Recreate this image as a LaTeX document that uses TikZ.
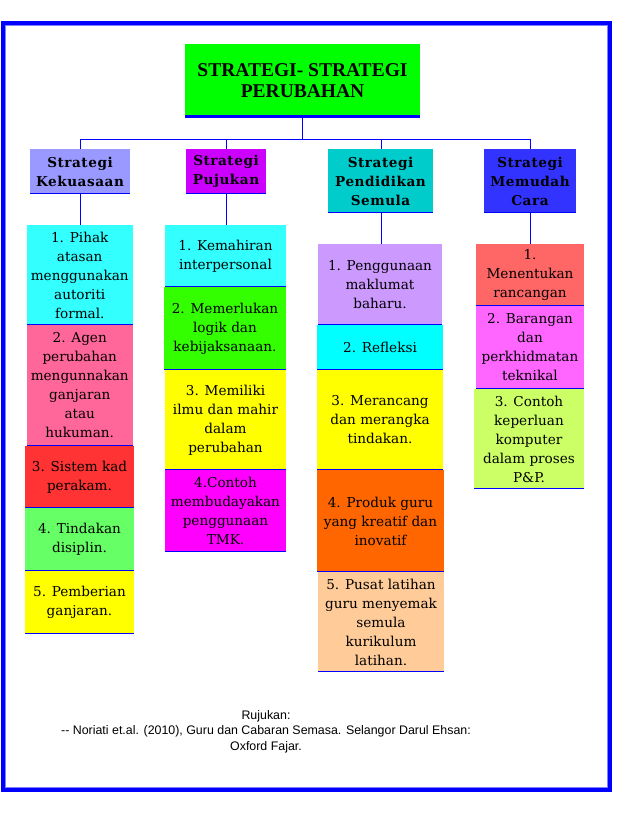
\documentclass[tikz,border=0pt]{standalone}
\usepackage{fontspec}
\newfontfamily\bxfont{DejaVu Serif}
\newfontfamily\hdfont[LetterSpace=4]{DejaVu Serif}
\newfontfamily\ttlfont{Liberation Serif}
\newfontfamily\rffont{Liberation Sans}
\definecolor{frameblue}{HTML}{0000FF}
\definecolor{framelight}{HTML}{8080FF}
\definecolor{cTitle}{HTML}{00FF00}
\definecolor{cK}{HTML}{9999FF}
\definecolor{cP}{HTML}{CC00FF}
\definecolor{cS}{HTML}{00CCCC}
\definecolor{cM}{HTML}{3333FF}
\definecolor{cCyan}{HTML}{33FFFF}
\definecolor{cPink}{HTML}{FF6699}
\definecolor{cRed}{HTML}{FF3333}
\definecolor{cLGreen}{HTML}{66FF66}
\definecolor{cYellow}{HTML}{FFFF00}
\definecolor{cGreen}{HTML}{33FF00}
\definecolor{cMagenta}{HTML}{FF00FF}
\definecolor{cLav}{HTML}{CC99FF}
\definecolor{cAqua}{HTML}{00FFFF}
\definecolor{cOrange}{HTML}{FF6600}
\definecolor{cPeach}{HTML}{FFCC99}
\definecolor{cSalmon}{HTML}{FF6666}
\definecolor{cOrchid}{HTML}{FF66FF}
\definecolor{cLime}{HTML}{CCFF66}
\tikzset{
  itembox/.style={anchor=north west, inner sep=0pt, outer sep=0pt, align=center,
    text=black, font=\bxfont\fontsize{13.6pt}{19pt}\selectfont},
  headbox/.style={anchor=north west, inner sep=0pt, outer sep=0pt, align=center,
    text=black, font=\hdfont\bfseries\fontsize{13.6pt}{19pt}\selectfont},
  titlebox/.style={anchor=north west, inner sep=0pt, outer sep=0pt, align=center,
    text=black, font=\ttlfont\bfseries\fontsize{19.5pt}{21pt}\selectfont},
  conn/.style={draw=frameblue, line width=1pt},
  botline/.style={draw=frameblue, line width=1pt},
  headline/.style={draw=frameblue, line width=1.8pt},
}
\begin{document}
\begin{tikzpicture}[x=1pt,y=-1pt]
\useasboundingbox (0,0) rectangle (632,813);
\fill[white] (0,0) rectangle (632,813);
% frame
\draw[frameblue, line width=3.6pt] (2.8,22.8) rectangle (610,789.8);
\draw[framelight, line width=1pt] (5.1,25.1) rectangle (607.7,787.5);

% title
\node[titlebox, fill=cTitle, minimum width=235pt, minimum height=74pt] (t) at (185,44) {STRATEGI- STRATEGI\\PERUBAHAN};
\draw[frameblue, line width=3pt] ([yshift=1.6pt]t.south west) -- ([yshift=1.6pt]t.south east);

% level 2
\node[headbox, fill=cK, minimum width=100pt, minimum height=45.3pt] (k) at (30,149) {Strategi\\Kekuasaan};
\node[headbox, fill=cP, minimum width=80pt, minimum height=45.3pt] (p) at (186,149) {Strategi\\Pujukan};
\node[headbox, fill=cS, minimum width=105pt, minimum height=64.3pt] (s) at (328,149) {Strategi\\Pendidikan\\Semula};
\node[headbox, fill=cM, minimum width=92pt, minimum height=64.3pt] (m) at (484,149) {Strategi\\Memudah\\Cara};
\foreach \n in {k,p,s,m}{\draw[headline] ([yshift=0.9pt]\n.south west) -- ([yshift=0.9pt]\n.south east);}

% hub connectors
\coordinate (hub) at (303,139.3);
\draw[conn] (t.south) -- (t.south |- hub);
\draw[conn] (k.north) |- (m.north |- hub) -- (m.north);
\draw[conn] (p.north) -- (p.north |- hub);
\draw[conn] ([xshift=1pt]s.north) -- ([xshift=1pt]s.north |- hub);

% column 1
\node[itembox, fill=cCyan, minimum width=106.5pt, minimum height=100pt] (c1a) at (26.5,225) {1. Pihak\\atasan\\menggunakan\\autoriti\\formal.};
\node[itembox, fill=cPink, minimum width=106.5pt, minimum height=120.5pt] (c1b) at (26.5,325) {2. Agen\\perubahan\\mengunnakan\\ganjaran\\atau\\hukuman.};
\node[itembox, fill=cRed, minimum width=109pt, minimum height=62.5pt] (c1c) at (25,445.5) {3. Sistem kad\\perakam.};
\node[itembox, fill=cLGreen, minimum width=109pt, minimum height=63pt] (c1d) at (25,508) {4. Tindakan\\disiplin.};
\node[itembox, fill=cYellow, minimum width=109pt, minimum height=63pt] (c1e) at (25,571) {5. Pemberian\\ganjaran.};

% column 2
\node[itembox, fill=cCyan, minimum width=121pt, minimum height=62.3pt] (c2a) at (165,225) {1. Kemahiran\\interpersonal};
\node[itembox, fill=cGreen, minimum width=122pt, minimum height=82.4pt] (c2b) at (164,287.3) {2. Memerlukan\\logik dan\\kebijaksanaan.};
\node[itembox, fill=cYellow, minimum width=121pt, minimum height=100.3pt] (c2c) at (165,369.7) {3. Memiliki\\ilmu dan mahir\\dalam\\perubahan};
\node[itembox, fill=cMagenta, minimum width=121pt, minimum height=82.3pt] (c2d) at (165,470) {4.Contoh\\membudayakan\\penggunaan\\TMK.};

% column 3
\node[itembox, fill=cLav, minimum width=124pt, minimum height=81.3pt] (c3a) at (318,244) {1. Penggunaan\\maklumat\\baharu.};
\node[itembox, fill=cAqua, minimum width=126pt, minimum height=44.4pt] (c3b) at (317,325.3) {2. Refleksi};
\node[itembox, fill=cYellow, minimum width=126pt, minimum height=100.6pt] (c3c) at (317,369.7) {3. Merancang\\dan merangka\\tindakan.};
\node[itembox, fill=cOrange, minimum width=127pt, minimum height=101.4pt] (c3d) at (317,470.3) {4. Produk guru\\yang kreatif dan\\inovatif};
\node[itembox, fill=cPeach, minimum width=126pt, minimum height=100.6pt] (c3e) at (318,571.7) {5. Pusat latihan\\guru menyemak\\semula\\kurikulum\\latihan.};

% column 4
\node[itembox, fill=cSalmon, minimum width=108pt, minimum height=62.3pt] (c4a) at (476,244) {1.\\Menentukan\\rancangan};
\node[itembox, fill=cOrchid, minimum width=108pt, minimum height=82.4pt] (c4b) at (476,306.3) {2. Barangan\\dan\\perkhidmatan\\teknikal};
\node[itembox, fill=cLime, minimum width=110pt, minimum height=100.6pt] (c4c) at (474,388.7) {3. Contoh\\keperluan\\komputer\\dalam proses\\P\&P.};

% bottom lines of item boxes
\foreach \n in {c1a,c1b,c1c,c1d,c1e,c2a,c2b,c2c,c2d,c3a,c3b,c3c,c3d,c3e,c4a,c4b,c4c}{
  \draw[botline] ([yshift=0.5pt]\n.south west) -- ([yshift=0.5pt]\n.south east);}

% column connectors
\draw[conn] (k.south) -- (k.south |- c1a.north);
\draw[conn] (p.south) -- (p.south |- c2a.north);
\draw[conn] ([xshift=1pt]s.south) -- ([xshift=1pt]s.south |- c3a.north);
\draw[conn] (m.south) -- (m.south |- c4a.north);

% reference
\node[align=center, inner sep=0pt, font=\rffont\fontsize{12.4pt}{15.5pt}\selectfont] (ref) at (266,731.5)
  {Rujukan:\\-- Noriati et.al. (2010), Guru dan Cabaran Semasa. Selangor Darul Ehsan:\\Oxford Fajar.};
\end{tikzpicture}
\end{document}
